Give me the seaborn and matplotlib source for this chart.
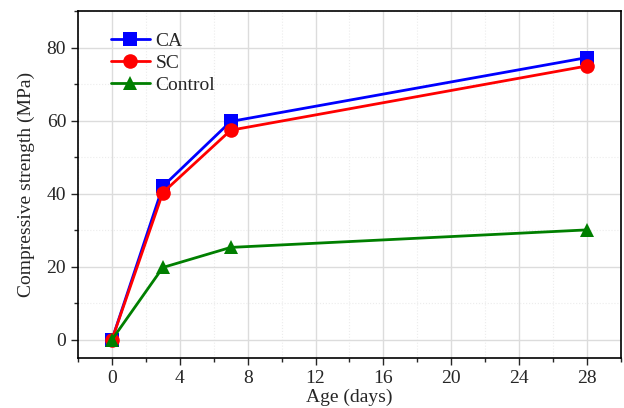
import matplotlib
matplotlib.use("Agg")
import matplotlib.pyplot as plt
from matplotlib.ticker import MultipleLocator
import seaborn as sns
import pandas as pd

# Compressive strength vs curing age
age = [0, 3, 7, 28]
ca = [0, 42.0, 59.8, 77.3]
sc = [0, 40.3, 57.4, 75.0]
control = [0, 19.8, 25.3, 30.1]

df = pd.DataFrame({"Age": age * 3,
                   "Strength": ca + sc + control,
                   "Mix": ["CA"] * 4 + ["SC"] * 4 + ["Control"] * 4})

sns.set_style("ticks")
plt.rcParams['font.family'] = ['Liberation Serif', 'DejaVu Serif']

fig = plt.figure(figsize=(6.24, 4.08), dpi=100)
ax = fig.add_axes([0.125, 0.1225, 0.87, 0.85])

palette = {"CA": "#0000ff", "SC": "#ff0000", "Control": "#007f00"}
markers = {"CA": "s", "SC": "o", "Control": "^"}
sns.lineplot(data=df, x="Age", y="Strength", hue="Mix", style="Mix",
             palette=palette, markers=markers, dashes=False,
             markersize=10.5, linewidth=2, markeredgewidth=0, ax=ax, zorder=3)

ax.set_xlim(-2, 30)
ax.set_ylim(-5, 90)
ax.xaxis.set_major_locator(MultipleLocator(4))
ax.xaxis.set_minor_locator(MultipleLocator(2))
ax.yaxis.set_major_locator(MultipleLocator(20))
ax.yaxis.set_minor_locator(MultipleLocator(10))
ax.grid(which="major", color="#dcdcdc", linewidth=1)
ax.grid(which="minor", color="#ececec", linewidth=0.8, linestyle=":")
ax.set_axisbelow(True)

for s in ax.spines.values():
    s.set_visible(True)
    s.set_linewidth(1.2)
    s.set_color("black")
ax.tick_params(which="major", direction="out", length=5, width=1, labelsize=14)
ax.tick_params(which="minor", direction="out", length=3, width=1)

ax.set_xlabel("Age (days)", fontsize=14, labelpad=1)
ax.set_ylabel("Compressive strength (MPa)", fontsize=14, labelpad=8)

leg = ax.legend(loc="upper left", bbox_to_anchor=(0.035, 0.978), frameon=False,
                fontsize=14, handlelength=2.0, handletextpad=0.3,
                labelspacing=0.22, borderaxespad=0.3)

fig.savefig("out.png", dpi=100)
